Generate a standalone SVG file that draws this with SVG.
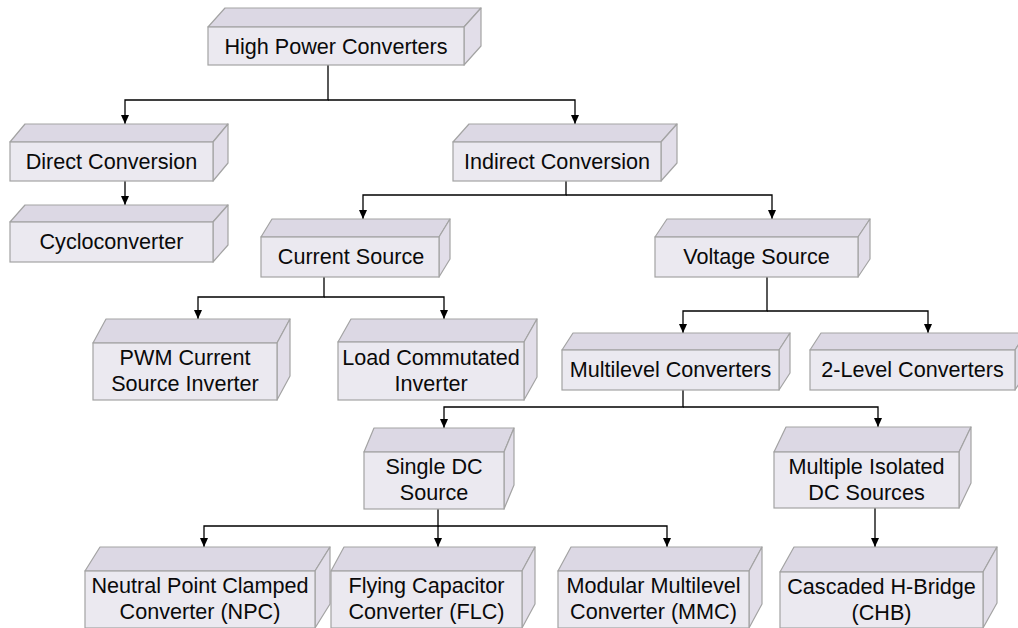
<svg xmlns="http://www.w3.org/2000/svg" width="1018" height="628" viewBox="0 0 1018 628">
<style>
.f{fill:#EBE9F0;stroke:#A3A3A3;stroke-width:1.2}
.t{fill:#DCD8E4;stroke:#A3A3A3;stroke-width:1.2;stroke-linejoin:round}
.s{fill:#E2DEE9;stroke:#A3A3A3;stroke-width:1.2;stroke-linejoin:round}
.l{font-family:"Liberation Sans",Arial,sans-serif;font-size:21.6px;fill:#0a0a0a;text-anchor:middle}
.c{fill:none;stroke:#000;stroke-width:1.3;marker-end:url(#ah)}
</style>
<defs>
<marker id="ah" markerUnits="userSpaceOnUse" markerWidth="10" markerHeight="9" refX="9" refY="4" orient="auto">
<path d="M0,0 L9,4 L0,8 Z" fill="#000"/>
</marker>
</defs>
<rect width="1018" height="628" fill="#fff"/>
<g id="connectors">
<path class="c" d="M328,65 V100 H125 V124"/>
<path class="c" d="M328,100 H575 V124"/>
<path class="c" d="M125,181 V205"/>
<path class="c" d="M566,181 V195 H363 V219"/>
<path class="c" d="M566,195 H772 V219"/>
<path class="c" d="M324,277 V297 H198 V319"/>
<path class="c" d="M324,297 H444 V319"/>
<path class="c" d="M767,277 V311 H683 V333"/>
<path class="c" d="M767,311 H928 V333"/>
<path class="c" d="M683,390 V407 H444 V428"/>
<path class="c" d="M683,407 H878 V427"/>
<path class="c" d="M438,509 V526 H204 V547"/>
<path class="c" d="M438,526 V547"/>
<path class="c" d="M438,526 H667 V547"/>
<path class="c" d="M875,508 V547"/>
</g>
<g id="hpc">
<path class="t" d="M208,27 L225,8 L481,8 L464,27 Z"/>
<path class="s" d="M464,27 L481,8 L481,46 L464,65 Z"/>
<rect class="f" x="208" y="27" width="256" height="38"/>
<text class="l" x="336" y="53.5">High Power Converters</text>
</g>
<g id="direct">
<path class="t" d="M10,142 L25,124 L228,124 L213,142 Z"/>
<path class="s" d="M213,142 L228,124 L228,163 L213,181 Z"/>
<rect class="f" x="10" y="142" width="203" height="39"/>
<text class="l" x="111.5" y="169">Direct Conversion</text>
</g>
<g id="cyclo">
<path class="t" d="M10,222 L25,205 L228,205 L213,222 Z"/>
<path class="s" d="M213,222 L228,205 L228,245 L213,262 Z"/>
<rect class="f" x="10" y="222" width="203" height="40"/>
<text class="l" x="111.5" y="249">Cycloconverter</text>
</g>
<g id="indirect">
<path class="t" d="M453,142 L469,124 L677,124 L661,142 Z"/>
<path class="s" d="M661,142 L677,124 L677,163 L661,181 Z"/>
<rect class="f" x="453" y="142" width="208" height="39"/>
<text class="l" x="557" y="169">Indirect Conversion</text>
</g>
<g id="current">
<path class="t" d="M261,237 L272,219 L450,219 L439,237 Z"/>
<path class="s" d="M439,237 L450,219 L450,259 L439,277 Z"/>
<rect class="f" x="261" y="237" width="178" height="40"/>
<text class="l" x="351" y="264">Current Source</text>
</g>
<g id="voltage">
<path class="t" d="M655,237 L667,219 L870,219 L858,237 Z"/>
<path class="s" d="M858,237 L870,219 L870,259 L858,277 Z"/>
<rect class="f" x="655" y="237" width="203" height="40"/>
<text class="l" x="756.5" y="264">Voltage Source</text>
</g>
<g id="pwm">
<path class="t" d="M93,343 L106,319 L290,319 L277,343 Z"/>
<path class="s" d="M277,343 L290,319 L290,376 L277,400 Z"/>
<rect class="f" x="93" y="343" width="184" height="57"/>
<text class="l" x="185" y="365">PWM Current</text>
<text class="l" x="185" y="391">Source Inverter</text>
</g>
<g id="lci">
<path class="t" d="M338,342 L351,319 L537,319 L524,342 Z"/>
<path class="s" d="M524,342 L537,319 L537,377 L524,400 Z"/>
<rect class="f" x="338" y="342" width="186" height="58"/>
<text class="l" x="431" y="364.5">Load Commutated</text>
<text class="l" x="431" y="390.5">Inverter</text>
</g>
<g id="multilevel">
<path class="t" d="M562,350 L573,333 L790,333 L779,350 Z"/>
<path class="s" d="M779,350 L790,333 L790,373 L779,390 Z"/>
<rect class="f" x="562" y="350" width="217" height="40"/>
<text class="l" x="670.5" y="377">Multilevel Converters</text>
</g>
<g id="twolevel">
<path class="t" d="M810,350 L821,333 L1026,333 L1015,350 Z"/>
<path class="s" d="M1015,350 L1026,333 L1026,373 L1015,390 Z"/>
<rect class="f" x="810" y="350" width="205" height="40"/>
<text class="l" x="912.5" y="377">2-Level Converters</text>
</g>
<g id="singledc">
<path class="t" d="M364,452 L374,428 L514,428 L504,452 Z"/>
<path class="s" d="M504,452 L514,428 L514,485 L504,509 Z"/>
<rect class="f" x="364" y="452" width="140" height="57"/>
<text class="l" x="434" y="474">Single DC</text>
<text class="l" x="434" y="500">Source</text>
</g>
<g id="multidc">
<path class="t" d="M774,452 L786,427 L971,427 L959,452 Z"/>
<path class="s" d="M959,452 L971,427 L971,483 L959,508 Z"/>
<rect class="f" x="774" y="452" width="185" height="56"/>
<text class="l" x="866.5" y="473.5">Multiple Isolated</text>
<text class="l" x="866.5" y="499.5">DC Sources</text>
</g>
<g id="npc">
<path class="t" d="M85,571 L100,547 L330,547 L315,571 Z"/>
<path class="s" d="M315,571 L330,547 L330,604 L315,628 Z"/>
<rect class="f" x="85" y="571" width="230" height="57"/>
<text class="l" x="200" y="593">Neutral Point Clamped</text>
<text class="l" x="200" y="619">Converter (NPC)</text>
</g>
<g id="flc">
<path class="t" d="M331,571 L344,547 L535,547 L522,571 Z"/>
<path class="s" d="M522,571 L535,547 L535,604 L522,628 Z"/>
<rect class="f" x="331" y="571" width="191" height="57"/>
<text class="l" x="426.5" y="593">Flying Capacitor</text>
<text class="l" x="426.5" y="619">Converter (FLC)</text>
</g>
<g id="mmc">
<path class="t" d="M558,571 L571,547 L762,547 L749,571 Z"/>
<path class="s" d="M749,571 L762,547 L762,604 L749,628 Z"/>
<rect class="f" x="558" y="571" width="191" height="57"/>
<text class="l" x="653.5" y="593">Modular Multilevel</text>
<text class="l" x="653.5" y="619">Converter (MMC)</text>
</g>
<g id="chb">
<path class="t" d="M780,572 L794,547 L997,547 L983,572 Z"/>
<path class="s" d="M983,572 L997,547 L997,603 L983,628 Z"/>
<rect class="f" x="780" y="572" width="203" height="56"/>
<text class="l" x="881.5" y="594">Cascaded H-Bridge</text>
<text class="l" x="881.5" y="620">(CHB)</text>
</g>
</svg>
